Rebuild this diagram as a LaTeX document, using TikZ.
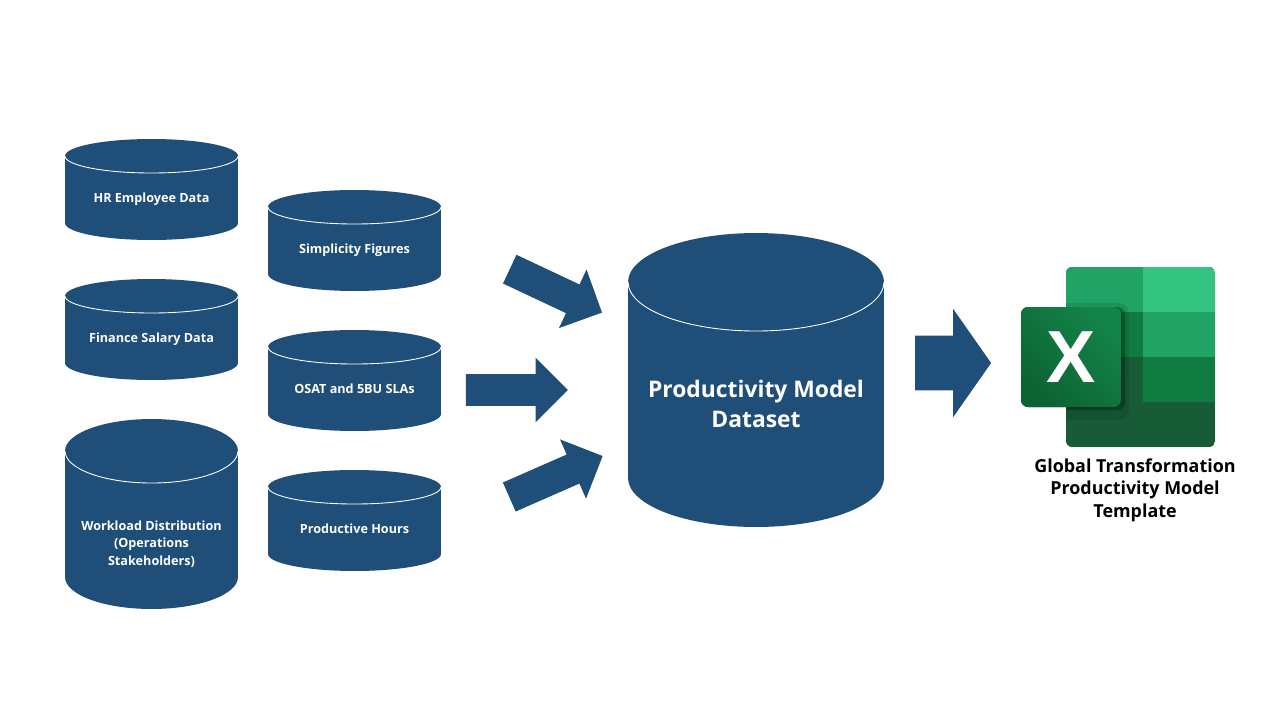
\documentclass[tikz,border=0pt]{standalone}
\usepackage{fontspec}
\setmainfont{Open Sans}
\usetikzlibrary{shapes.arrows,shadings}
\definecolor{azul}{HTML}{1F4E79}
\definecolor{xlclaro}{HTML}{33C481}
\definecolor{xlmedio}{HTML}{21A366}
\definecolor{xlfuerte}{HTML}{107C41}
\definecolor{xloscuro}{HTML}{185C37}
\begin{document}
\begin{tikzpicture}[
        x=0.02cm, y=-0.02cm,
        pics/cilindro/.style n args={3}{code={
            \fill[azul] (-#1,#2) arc[start angle=180, end angle=0, x radius=#1, y radius=#3] -- (#1,-#2) arc[start angle=0, end angle=-180, x radius=#1, y radius=#3] -- cycle;
            \draw[draw=white, line width=0.5pt] (-#1,#2) arc[start angle=180, end angle=360, x radius=#1, y radius=#3];
        }},
        etiqueta/.style={text=white, align=center, inner sep=0pt, font=\bfseries\fontsize{7.2}{10}\selectfont},
        titulo/.style={etiqueta, font=\bfseries\fontsize{13}{17.5}\selectfont},
        flecha/.style={shape=single arrow, fill=azul, inner xsep=0pt, inner ysep=0.31cm, outer sep=0pt, single arrow head extend=0.33cm, minimum height=2.04cm}
    ]
        \useasboundingbox (0,0) rectangle (1280,720);

        \pic at (151.5,189.5) {cilindro={1.73cm}{0.67cm}{0.34cm}};
        \pic at (151.5,329.5) {cilindro={1.73cm}{0.67cm}{0.34cm}};
        \pic at (151.5,514) {cilindro={1.73cm}{1.26cm}{0.64cm}};
        \pic at (354.5,240.5) {cilindro={1.73cm}{0.67cm}{0.34cm}};
        \pic at (354.5,380.5) {cilindro={1.73cm}{0.67cm}{0.34cm}};
        \pic at (354.5,520.5) {cilindro={1.73cm}{0.67cm}{0.34cm}};
        \pic at (756,380) {cilindro={2.56cm}{1.96cm}{0.98cm}};

        \node[etiqueta] (hr) at (151.5,199) {HR Employee Data};
        \node[etiqueta] (finance) at (151.5,339.5) {Finance Salary Data};
        \node[etiqueta] (workload) at (151.5,544) {Workload Distribution\\(Operations\\Stakeholders)};
        \node[etiqueta] (simplicity) at (354.5,250.5) {Simplicity Figures};
        \node[etiqueta] (osat) at (354.5,388.5) {OSAT and 5BU SLAs};
        \node[etiqueta] (hours) at (354.5,528.5) {Productive Hours};
        \node[titulo] (dataset) at (756,404) {Productivity Model\\Dataset};

        \node[flecha, rotate=-25.2] (arriba) at (548.7,287.5) {};
        \node[flecha] (medio) at (509,390) {};
        \node[flecha, rotate=23.7] (abajo) at (548.7,479.7) {};
        \node[flecha, inner ysep=0.54cm, single arrow head extend=0.54cm, shape border uses incircle=false, single arrow tip angle=110, minimum height=1.52cm] (salida) at (943.5,363) {};

        % icono de excel
        \begin{scope}
            \clip[rounded corners=0.12cm] (1066,267) rectangle (1215,447);
            \fill[xloscuro] (1066,267) rectangle (1215,447);
            \fill[xlmedio] (1066,267) rectangle (1143,312);
            \fill[xlclaro] (1143,267) rectangle (1215,312);
            \fill[xlfuerte] (1066,312) rectangle (1143,357);
            \fill[xlmedio] (1143,312) rectangle (1215,357);
            \fill[xlfuerte] (1143,357) rectangle (1215,402);
            \fill[black, opacity=0.1, rounded corners=0.2cm] (1040,303) rectangle (1129,420);
            \fill[black, opacity=0.25, rounded corners=0.14cm] (1040,307) rectangle (1125,410);
        \end{scope}
        \fill[left color=xlfuerte!80!xlmedio, right color=xlfuerte!80!black, shading angle=-45, rounded corners=0.14cm] (1021,307) rectangle (1121,407);
        \node[text=white, font=\fontsize{42}{42}\selectfont\setmainfont{Liberation Sans}\bfseries, inner sep=0pt] (equis) at (1071,357) {X};

        \node[align=center, text=black, font=\bfseries\fontsize{10.2}{12.8}\selectfont] (plantilla) at (1135,490) {Global Transformation\\Productivity Model\\Template};
    \end{tikzpicture}
\end{document}
